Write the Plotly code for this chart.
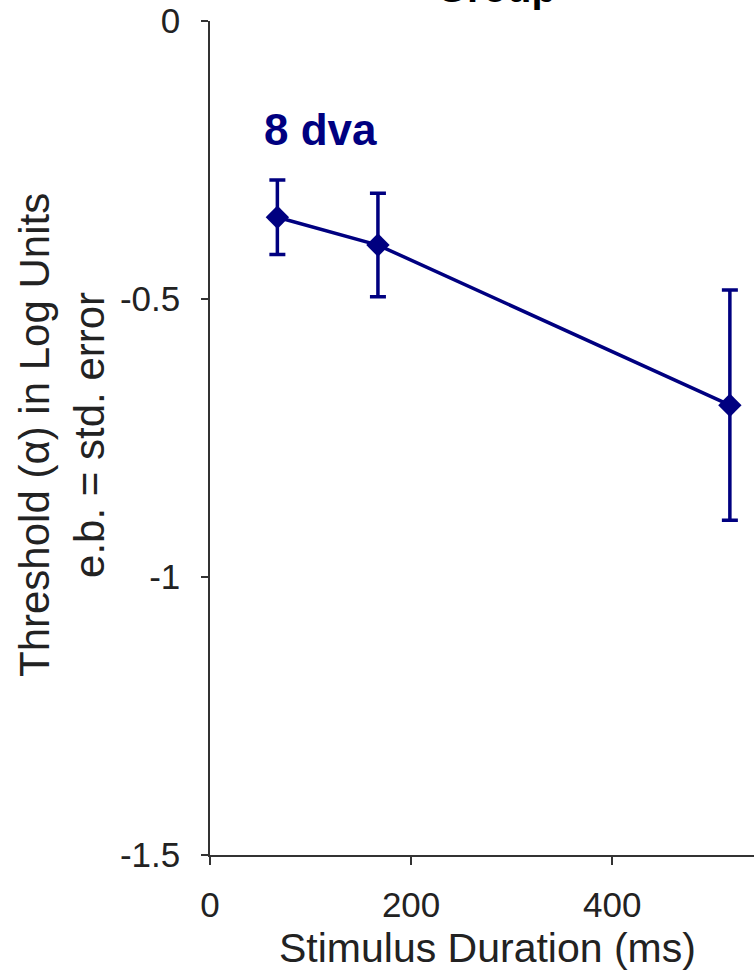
import plotly.graph_objects as go

# Stimulus durations (ms) and mean thresholds (log units) with standard errors
durations = [67, 167, 517]
thresholds = [-0.353, -0.403, -0.691]
std_errors = [0.067, 0.093, 0.207]

y_tick_vals = [0, -0.5, -1, -1.5]
y_tick_text = ["0", "-0.5", "-1", "-1.5"]
x_tick_vals = [0, 200, 400]
x_tick_text = ["0", "200", "400"]

series_label = "8 dva"
panel_title = "Group"
x_title = "Stimulus Duration (ms)"
y_title = "Threshold (\u03b1) in Log Units<br>e.b. = std. error"

NAVY = "#000080"
AXIS = "#333333"
TEXT = "#222222"
FONT = "Liberation Sans, Arial, Helvetica, sans-serif"

# plot area geometry (pixels)
L, T, W, H = 210, 21, 544, 834


def px_x(px):
    return (px - L) / W


def px_y(py):
    return 1 - (py - T) / H


fig = go.Figure()
fig.add_trace(go.Scatter(
    x=durations,
    y=thresholds,
    mode="lines+markers",
    line=dict(color=NAVY, width=3.5),
    marker=dict(symbol="diamond", size=18, color=NAVY),
    error_y=dict(type="data", array=std_errors, visible=True,
                 color=NAVY, thickness=3.5, width=8),
    showlegend=False,
))

fig.add_annotation(
    x=110, y=-0.196, xref="x", yref="y",
    text="<b>%s</b>" % series_label, showarrow=False,
    font=dict(family=FONT, size=44, color=NAVY),
    xanchor="center", yanchor="middle",
)

# Panel heading above the axes
fig.add_annotation(
    x=px_x(496), y=px_y(-12), xref="paper", yref="paper",
    text="<b>%s</b>" % panel_title, showarrow=False,
    font=dict(family=FONT, size=40, color="#000000"),
    xanchor="center", yanchor="middle",
)

# Two-line y-axis title
fig.add_annotation(
    x=px_x(62), y=px_y(435), xref="paper", yref="paper",
    text=y_title, showarrow=False, textangle=-90,
    font=dict(family=FONT, size=42, color=TEXT),
    xanchor="center", yanchor="middle",
)

# x-axis title
fig.add_annotation(
    x=px_x(487), y=px_y(948), xref="paper", yref="paper",
    text=x_title, showarrow=False,
    font=dict(family=FONT, size=41, color=TEXT),
    xanchor="center", yanchor="middle",
)

fig.update_layout(
    width=754, height=975,
    margin=dict(l=L, r=754 - L - W, t=T, b=975 - T - H),
    plot_bgcolor="white", paper_bgcolor="white",
    font=dict(family=FONT, color=TEXT),
)

fig.update_xaxes(
    range=[0, 541], tickvals=x_tick_vals, ticktext=x_tick_text,
    showgrid=False, zeroline=False, showline=True, linecolor=AXIS, linewidth=1.5,
    ticks="outside", ticklen=8, tickcolor=AXIS, tickwidth=1.5,
    ticklabelstandoff=10,
    tickfont=dict(family=FONT, size=35, color=TEXT),
)
fig.update_yaxes(
    range=[-1.5, 0], tickvals=y_tick_vals, ticktext=y_tick_text,
    showgrid=False, zeroline=False, showline=True, linecolor=AXIS, linewidth=1.5,
    ticks="outside", ticklen=7, tickcolor=AXIS, tickwidth=1.5,
    ticklabelstandoff=14,
    tickfont=dict(family=FONT, size=35, color=TEXT),
)

fig.write_html("out.html")
